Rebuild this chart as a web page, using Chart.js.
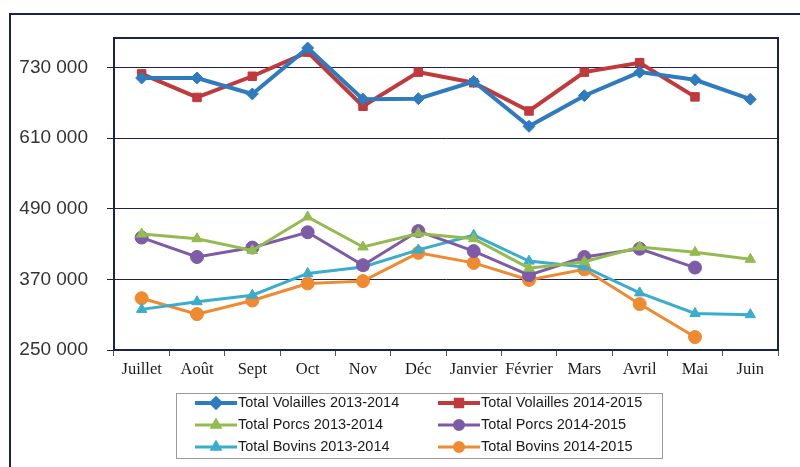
<!DOCTYPE html>
<html>
<head>
<meta charset="utf-8">
<script src="https://cdn.jsdelivr.net/npm/chart.js@4.4.0/dist/chart.umd.min.js"></script>
<style>
    html, body { margin: 0; padding: 0; background: #fff; }
    #wrap { position: relative; width: 800px; height: 467px; }
</style>
</head>
<body>
<div id="wrap"><canvas id="chart" width="800" height="467"></canvas></div>
<script>
// --- Données ---
const months = ['Juillet', 'Août', 'Sept', 'Oct', 'Nov', 'Déc', 'Janvier', 'Février', 'Mars', 'Avril', 'Mai', 'Juin'];
const yTicks = [250000, 370000, 490000, 610000, 730000];

const volailles1314 = [712000, 712000, 685000, 763000, 676000, 677000, 706000, 630000, 682000, 722000, 709000, 676000];
const volailles1415 = [719000, 679000, 715000, 756000, 664000, 722000, 704000, 656000, 722000, 738000, 680000, null];
const porcs1314 = [447000, 439000, 419000, 476000, 425000, 448000, 439000, 389000, 400000, 425000, 416000, 404000];
const porcs1415 = [441000, 408000, 424000, 450000, 394000, 452000, 418000, 377000, 408000, 422000, 390000, null];
const bovins1314 = [319000, 332000, 343000, 380000, 391000, 420000, 445000, 401000, 391000, 347000, 312000, 310000];
const bovins1415 = [338000, 311000, 334000, 363000, 367000, 415000, 398000, 369000, 387000, 328000, 272000, null];

const NAVY = '#1c2150';

function serie(label, data, color, style, width, radius) {
    return {
        label: label,
        data: data,
        borderColor: color,
        backgroundColor: color,
        borderWidth: width,
        pointStyle: style,
        pointRadius: radius,
        pointHoverRadius: radius,
        pointBackgroundColor: color,
        pointBorderColor: color,
        pointBorderWidth: 1,
        tension: 0,
        spanGaps: false
    };
}

// Cadre extérieur + bordure de la zone de tracé + légende dessinée à la main
const decorPlugin = {
    id: 'decor',
    beforeDraw(chart) {
        const ctx = chart.ctx;
        ctx.save();
        ctx.strokeStyle = NAVY;
        ctx.lineWidth = 2;
        ctx.beginPath();
        ctx.moveTo(10, 467);
        ctx.lineTo(10, 14);
        ctx.lineTo(800, 14);
        ctx.stroke();
        ctx.restore();
    },
    afterDraw(chart) {
        const ctx = chart.ctx;
        const a = chart.chartArea;
        ctx.save();
        ctx.strokeStyle = NAVY;
        ctx.lineWidth = 2;
        ctx.beginPath();
        ctx.moveTo(a.left, a.top);
        ctx.lineTo(a.right, a.top);
        ctx.lineTo(a.right, a.bottom);
        ctx.stroke();

        // Légende
        ctx.strokeStyle = '#9a9a9a';
        ctx.lineWidth = 1;
        ctx.strokeRect(176.5, 393.5, 486, 65);
        const cols = [195, 438];
        const rows = [403, 425, 447];
        ctx.font = '14.5px "Liberation Sans", Arial, sans-serif';
        ctx.textBaseline = 'middle';
        chart.data.datasets.forEach((ds, i) => {
            const x = cols[i % 2];
            const y = rows[Math.floor(i / 2)];
            ctx.strokeStyle = ds.borderColor;
            ctx.lineWidth = ds.borderWidth;
            ctx.beginPath();
            ctx.moveTo(x, y);
            ctx.lineTo(x + 42, y);
            ctx.stroke();
            ctx.fillStyle = ds.borderColor;
            Chart.helpers.drawPoint(ctx, {
                pointStyle: ds.pointStyle,
                radius: 4.5,
                rotation: 0,
                borderWidth: 1
            }, x + 21, y);
            ctx.fillStyle = '#1a1a1a';
            ctx.fillText(ds.label, x + 43, y);
        });
        ctx.restore();
    }
};

const ctx = document.getElementById('chart').getContext('2d');
new Chart(ctx, {
    type: 'line',
    data: {
        labels: months,
        datasets: [
            serie('Total Volailles 2013-2014', volailles1314, '#2e7bc0', 'rectRot', 4, 6),
            serie('Total Volailles 2014-2015', volailles1415, '#c0393b', 'rect', 4, 6),
            serie('Total Porcs 2013-2014', porcs1314, '#93bb4f', 'triangle', 3, 6),
            serie('Total Porcs 2014-2015', porcs1415, '#7d5ba6', 'circle', 3, 6.5),
            serie('Total Bovins 2013-2014', bovins1314, '#3aacce', 'triangle', 3, 6),
            serie('Total Bovins 2014-2015', bovins1415, '#f08a30', 'circle', 3, 6.5)
        ]
    },
    options: {
        responsive: false,
        animation: false,
        devicePixelRatio: 1,
        layout: {
            padding: { top: 38, right: 22, bottom: 0, left: 0 }
        },
        plugins: {
            legend: { display: false },
            tooltip: { enabled: false }
        },
        scales: {
            x: {
                offset: true,
                afterFit: function(scale) { scale.height = 117; },
                border: { display: true, color: NAVY, width: 2 },
                grid: {
                    offset: true,
                    drawOnChartArea: false,
                    drawTicks: true,
                    tickLength: 6,
                    color: '#555'
                },
                ticks: {
                    color: '#1a1a1a',
                    padding: 4,
                    maxRotation: 0,
                    autoSkip: false,
                    font: { family: '"Liberation Serif", "Times New Roman", serif', size: 16.5 }
                }
            },
            y: {
                min: 250000,
                max: 780000,
                afterFit: function(scale) { scale.width = 114; },
                afterBuildTicks: function(scale) {
                    scale.ticks = yTicks.map(v => ({ value: v }));
                },
                border: { display: true, color: NAVY, width: 2 },
                grid: {
                    color: NAVY,
                    lineWidth: 1,
                    drawTicks: true,
                    tickLength: 7
                },
                ticks: {
                    color: '#333',
                    padding: 19,
                    font: { family: '"Liberation Sans", Arial, sans-serif', size: 19 },
                    callback: function(value) {
                        return String(value).replace(/\B(?=(\d{3})+(?!\d))/g, ' ');
                    }
                }
            }
        }
    },
    plugins: [decorPlugin]
});
</script>
</body>
</html>
